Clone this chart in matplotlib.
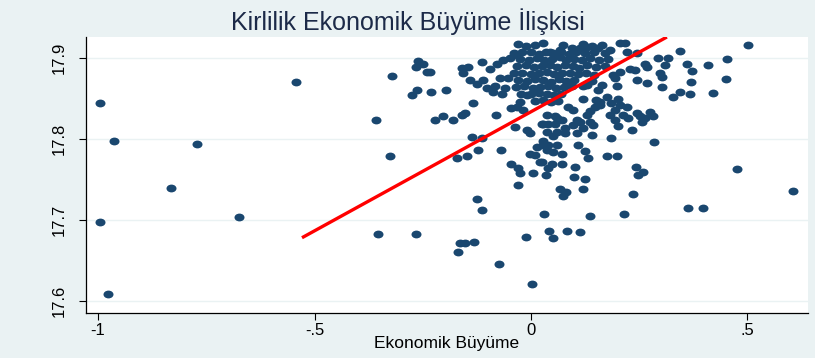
"""Kirlilik ile ekonomik büyüme arasındaki ilişki: saçılım + doğrusal uyum."""

import matplotlib

matplotlib.use("Agg")
import matplotlib.pyplot as plt
from matplotlib.path import Path
from matplotlib.transforms import Affine2D

# ekonomik büyüme (x) ve kirlilik (y)
growth = [
    # sol uç değerler
    -0.995, -0.964, -0.772, -0.542, -0.359, -0.831, -0.995, -0.674, -0.354, -0.978,
    # orta-sol küme
    -0.322, -0.260, -0.266, -0.249, -0.241, -0.233, -0.264, -0.276, -0.232, -0.196,
    -0.135, -0.160, -0.204, -0.222, -0.181, -0.152, -0.081,
    -0.145, -0.160, -0.156, -0.114, -0.141, -0.125, -0.110, -0.102, -0.083, -0.087,
    -0.068, -0.060, -0.072, -0.052, -0.095, -0.079, -0.064, -0.048, -0.033,
    -0.025, -0.033, -0.018, -0.045, -0.010, 0.036, 0.059,
    # orta-alt
    -0.326, -0.137, -0.114, -0.172, -0.148, -0.123, -0.070, -0.045, -0.029, -0.025,
    0.004, -0.029, -0.037, -0.010, -0.002, 0.025, -0.002, 0.009, 0.021, 0.013, 0.028,
    -0.125, -0.114, 0.030, 0.136, 0.215, -0.266, -0.164, -0.152, -0.131, -0.168,
    -0.073, -0.012, 0.042, 0.052, 0.084, 0.113, 0.002,
    # sağ taraf
    0.206, 0.217, 0.182, 0.155, 0.129, 0.113, 0.094, 0.067, 0.044, 0.221, 0.244,
    0.344, 0.294, 0.317, 0.263, 0.267, 0.360, 0.371, 0.409, 0.309, 0.298, 0.302,
    0.240, 0.229, 0.206, 0.190, 0.194, 0.244, 0.267, 0.302, 0.329, 0.344, 0.367,
    0.198, 0.163, 0.155, 0.129, 0.121,
    0.202, 0.206, 0.221, 0.194, 0.213, 0.182, 0.225, 0.244, 0.252, 0.275, 0.282,
    0.159, 0.148, 0.136, 0.129, 0.098, 0.086, 0.055, 0.071, 0.106, 0.136,
    0.055, 0.040, 0.028, 0.036, 0.059, 0.079, 0.098, 0.113, 0.121, 0.144, 0.140,
    0.106, 0.079, 0.052, 0.194, 0.202, 0.233, 0.186, 0.263, 0.256, 0.285,
    0.028, 0.040, 0.059, 0.036, 0.052, 0.071, 0.109, 0.125, 0.132, 0.175, 0.198,
    0.025, 0.048, 0.071, 0.040, 0.035, 0.102, 0.242, 0.259, 0.248, 0.475, 0.100,
    0.125, 0.067, 0.082, 0.075, 0.121, 0.236, 0.606,
    0.501, 0.450, 0.452, 0.363, 0.397, 0.370, 0.420,
    # yoğun çekirdek
    -0.030, -0.012, 0.010, 0.028, 0.075, 0.120, 0.140, 0.165,
    -0.040, -0.020, 0.000, 0.018, 0.035, 0.052, 0.070, 0.088, 0.105, 0.125, 0.145, 0.170,
    -0.025, -0.005, 0.014, 0.030, 0.048, 0.066, 0.082, 0.100, 0.118, 0.136, 0.158, 0.178,
    -0.032, -0.012, 0.008, 0.025, 0.044, 0.060, 0.078, 0.096, 0.112, 0.130, 0.150, 0.172,
    -0.040, -0.020, 0.000, 0.018, 0.036, 0.054, 0.072, 0.090, 0.108, 0.126, 0.146,
    -0.030, -0.010, 0.010, 0.028, 0.046, 0.064, 0.082, 0.100, 0.140,
    -0.035, -0.015, 0.004, 0.022, 0.040, 0.058, 0.076, 0.094,
    -0.022, 0.000, 0.018, 0.036, 0.054, 0.070,
    0.010, 0.028, 0.046, 0.062,
    # çekirdeğin sağ-alt kenarı
    0.150, 0.175, 0.120, 0.160, 0.185,
]

pollution = [
    17.845, 17.798, 17.794, 17.870, 17.823, 17.740, 17.698, 17.704, 17.682, 17.609,
    17.878, 17.896, 17.889, 17.893, 17.883, 17.883, 17.861, 17.854, 17.858, 17.860,
    17.845, 17.830, 17.828, 17.823, 17.824, 17.832, 17.830,
    17.889, 17.888, 17.881, 17.895, 17.873, 17.868, 17.873, 17.863, 17.865, 17.858,
    17.856, 17.863, 17.875, 17.875, 17.887, 17.893, 17.898, 17.900, 17.904,
    17.846, 17.840, 17.836, 17.838, 17.854, 17.830, 17.826,
    17.779, 17.802, 17.801, 17.777, 17.779, 17.786, 17.786, 17.769, 17.764, 17.758,
    17.758, 17.743, 17.815, 17.811, 17.807, 17.819, 17.781, 17.780, 17.772, 17.790, 17.793,
    17.726, 17.712, 17.707, 17.705, 17.707, 17.683, 17.672, 17.672, 17.673, 17.660,
    17.646, 17.679, 17.686, 17.678, 17.686, 17.685, 17.621,
    17.918, 17.918, 17.910, 17.912, 17.914, 17.912, 17.912, 17.910, 17.908, 17.908, 17.906,
    17.909, 17.900, 17.900, 17.893, 17.889, 17.893, 17.884, 17.892, 17.891, 17.881, 17.877,
    17.885, 17.887, 17.883, 17.879, 17.875, 17.873, 17.869, 17.864, 17.852, 17.858, 17.855,
    17.865, 17.867, 17.860, 17.867, 17.865,
    17.850, 17.842, 17.840, 17.836, 17.830, 17.830, 17.826, 17.832, 17.828, 17.833, 17.828,
    17.842, 17.840, 17.834, 17.830, 17.836, 17.840, 17.828, 17.823, 17.823, 17.821,
    17.819, 17.818, 17.819, 17.809, 17.809, 17.813, 17.817, 17.821, 17.813, 17.817, 17.805,
    17.807, 17.807, 17.804, 17.823, 17.816, 17.811, 17.801, 17.826, 17.821, 17.796,
    17.798, 17.793, 17.793, 17.786, 17.784, 17.781, 17.793, 17.785, 17.777, 17.779, 17.779,
    17.772, 17.769, 17.769, 17.764, 17.756, 17.765, 17.766, 17.759, 17.756, 17.763, 17.753,
    17.750, 17.738, 17.734, 17.730, 17.738, 17.732, 17.736,
    17.916, 17.874, 17.899, 17.715, 17.715, 17.870, 17.857,
    17.917, 17.915, 17.916, 17.918, 17.916, 17.917, 17.915, 17.916,
    17.906, 17.908, 17.907, 17.905, 17.908, 17.906, 17.907, 17.905, 17.908, 17.906, 17.907, 17.906,
    17.899, 17.897, 17.900, 17.898, 17.899, 17.901, 17.898, 17.899, 17.897, 17.900, 17.898, 17.899,
    17.890, 17.891, 17.889, 17.890, 17.892, 17.889, 17.891, 17.890, 17.888, 17.891, 17.889, 17.890,
    17.881, 17.882, 17.880, 17.881, 17.883, 17.880, 17.881, 17.882, 17.880, 17.881, 17.879,
    17.873, 17.872, 17.874, 17.873, 17.871, 17.874, 17.872, 17.873, 17.872,
    17.864, 17.865, 17.863, 17.864, 17.866, 17.863, 17.864, 17.865,
    17.856, 17.855, 17.857, 17.856, 17.854, 17.856,
    17.847, 17.848, 17.846, 17.847,
    17.848, 17.852, 17.850, 17.846, 17.845,
]

# doğrusal uyum çizgisinin uç noktaları
fit_x = [-0.529, 0.314]
fit_y = [17.678, 17.926]

x_ticks = [-1, -0.5, 0, 0.5]
x_tick_labels = ["-1", "-.5", "0", ".5"]
y_ticks = [17.6, 17.7, 17.8, 17.9]
y_tick_labels = ["17.6", "17.7", "17.8", "17.9"]

BG = "#EAF2F3"
NAVY = "#1A476F"

plt.rcParams["font.family"] = ["Liberation Sans", "DejaVu Sans"]

fig = plt.figure(figsize=(8.15, 3.58), dpi=100, facecolor=BG)
ax = fig.add_axes([86 / 815, 1 - 313 / 358, 722 / 815, 276 / 358])
ax.set_facecolor("white")

# Stata tarzı hafif oval nokta
ellipse = Path.unit_circle().transformed(Affine2D().scale(1.0, 0.78))
ax.scatter(growth, pollution, marker=ellipse, s=52, color=NAVY, linewidths=0, zorder=3)
ax.plot(fit_x, fit_y, color="#FF0000", linewidth=2.4, solid_capstyle="butt", zorder=4)

ax.set_xlim(-1.028, 0.640)
ax.set_ylim(17.585, 17.926)
ax.set_xticks(x_ticks, x_tick_labels)
ax.set_yticks(y_ticks, y_tick_labels)
for t in ax.get_yticklabels():
    t.set_rotation(90)
    t.set_va("center")
ax.tick_params(axis="x", labelsize=12, length=5, width=0.8, color="black", pad=2)
ax.tick_params(axis="y", labelsize=12, length=5, width=0.8, color="black", pad=9)
ax.grid(axis="y", color=BG, linewidth=1.0, zorder=0)
ax.set_axisbelow(True)

for side in ("top", "right"):
    ax.spines[side].set_visible(False)
for side in ("left", "bottom"):
    ax.spines[side].set_color("black")
    ax.spines[side].set_linewidth(0.9)

ax.set_xlabel("Ekonomik Büyüme", fontsize=12.5, labelpad=-1)
fig.suptitle("Kirlilik Ekonomik Büyüme İlişkisi", fontsize=18, color="#1C2A48", y=0.978)

fig.savefig("out.png", dpi=100, facecolor=BG)
